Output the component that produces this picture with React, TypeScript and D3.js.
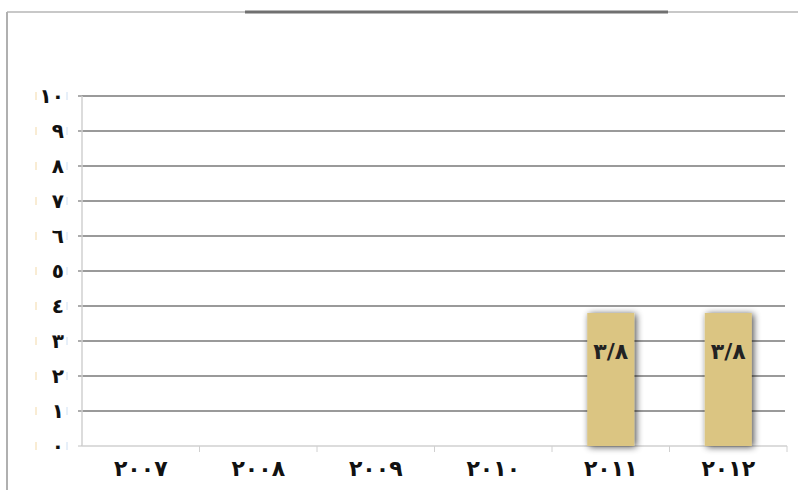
import React from "react";
import * as d3 from "d3";

const categories = ["٢٠٠٧", "٢٠٠٨", "٢٠٠٩", "٢٠١٠", "٢٠١١", "٢٠١٢"];
const values: (number | null)[] = [null, null, null, null, 3.8, 3.8];
const valueLabels = ["", "", "", "", "٣/٨", "٣/٨"];
const yTicks = [0, 1, 2, 3, 4, 5, 6, 7, 8, 9, 10];
const yTickLabels = ["٠", "١", "٢", "٣", "٤", "٥", "٦", "٧", "٨", "٩", "١٠"];

export default function App() {
  const W = 798, H = 490;
  const left = 82, right = 787, top = 96, bottom = 446;
  const x = d3.scaleBand<string>().domain(categories).range([left, right]).paddingInner(0.6).paddingOuter(0.3);
  const xTick = d3.scaleBand<string>().domain(categories).range([left, right]);
  const y = d3.scaleLinear().domain([0, 10]).range([bottom, top]);
  const font = "'DejaVu Sans', sans-serif";
  return (
    <svg width={W} height={H} style={{ position: "absolute", left: 0, top: 0, background: "#fff" }}>
      <defs>
        <filter id="sh" x="-40%" y="-20%" width="180%" height="140%">
          <feGaussianBlur in="SourceAlpha" stdDeviation="3.5" />
          <feOffset dx="2" dy="1" result="b" />
          <feComponentTransfer><feFuncA type="linear" slope="0.7" /></feComponentTransfer>
          <feMerge><feMergeNode /><feMergeNode in="SourceGraphic" /></feMerge>
        </filter>
      </defs>
      {/* frame */}
      <line x1={7} x2={798} y1={12} y2={12} stroke="#c8c8c8" strokeWidth={2} />
      <line x1={245} x2={668} y1={12} y2={12} stroke="#707070" strokeWidth={3} />
      <line x1={7} x2={7} y1={12} y2={490} stroke="#b0b0b0" strokeWidth={2} />
      {/* gridlines */}
      {yTicks.slice(1).map(t => (
        <line key={t} x1={left - 4} x2={right - 2} y1={y(t)} y2={y(t)} stroke="#9a9a9a" strokeWidth={2} />
      ))}
      {/* y axis */}
      <line x1={left} x2={left} y1={top} y2={bottom} stroke="#d0d0d0" strokeWidth={1.5} />
      {yTicks.map((t, i) => (
        <g key={t}>
          <line x1={left - 4} x2={left} y1={y(t)} y2={y(t)} stroke="#c0c0c0" />
          <line x1={36} x2={36} y1={y(t) - 4} y2={y(t) + 4} stroke="#f3d9a8" strokeWidth={1} />
          <line x1={67} x2={67} y1={y(t) - 4} y2={y(t) + 4} stroke="#cfe0f3" strokeWidth={1} />
          <text x={64} y={y(t)} dy="0.35em" textAnchor="end" fontFamily={font} fontWeight="bold" fontSize={20} fill="#111">{yTickLabels[i]}</text>
        </g>
      ))}
      {/* x axis */}
      <line x1={left} x2={right} y1={bottom} y2={bottom} stroke="#d0d0d0" strokeWidth={1.5} />
      {categories.map((c, i) => (
        <g key={c}>
          {i > 0 && <line x1={xTick(c)!} x2={xTick(c)!} y1={bottom} y2={bottom + 6} stroke="#d0d0d0" />}
          <text x={xTick(c)! + xTick.bandwidth() / 2} y={468} dy="0.35em" textAnchor="middle" fontFamily={font} fontWeight="bold" fontSize={22} letterSpacing={2} fill="#111">{c}</text>
        </g>
      ))}
      <line x1={right} x2={right} y1={bottom} y2={bottom + 6} stroke="#d0d0d0" />
      {/* bars */}
      {categories.map((c, i) => values[i] != null && (
        <g key={c}>
          <rect x={x(c)!} y={y(values[i]!)} width={x.bandwidth()} height={bottom - y(values[i]!)} fill="#dbc582" filter="url(#sh)" />
          <text x={x(c)! + x.bandwidth() / 2} y={y(values[i]!) + 38} dy="0.35em" textAnchor="middle" fontFamily={font} fontWeight="bold" fontSize={22} fill="#222">{valueLabels[i]}</text>
        </g>
      ))}
    </svg>
  );
}
